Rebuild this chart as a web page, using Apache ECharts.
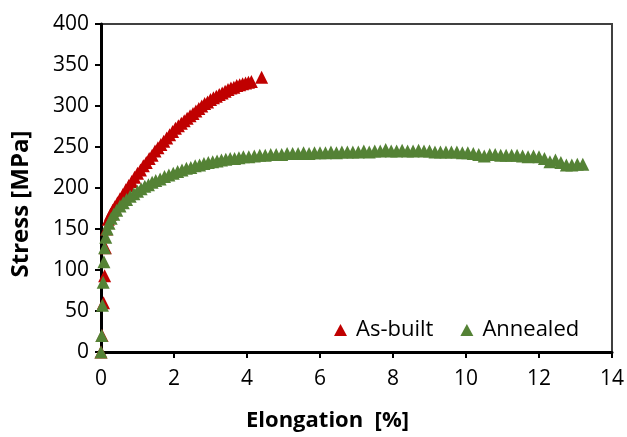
<!DOCTYPE html>
<html>
<head>
<meta charset="utf-8">
<script src="https://cdn.jsdelivr.net/npm/echarts@6/dist/echarts.min.js"></script>
<style>
html,body{margin:0;padding:0;background:#fff;}
#chart{width:627px;height:437px;}
</style>
</head>
<body>
<div id="chart"></div>
<script>
var xTicks = [0, 2, 4, 6, 8, 10, 12, 14];
var yTicks = [0, 50, 100, 150, 200, 250, 300, 350, 400];
var seriesNames = ["As-built", "Annealed"];

var asBuiltStrain = [0, 0.03, 0.07, 0.10, 0.12, 0.15, 0.20, 0.26, 0.32, 0.38, 0.45, 0.52, 0.60, 0.68, 0.76, 0.84, 0.92, 1.00, 1.08, 1.16, 1.24, 1.32, 1.40, 1.48, 1.56, 1.64, 1.72, 1.80, 1.88, 1.96, 2.04, 2.12, 2.20, 2.28, 2.36, 2.44, 2.52, 2.60, 2.68, 2.76, 2.84, 2.92, 3.00, 3.08, 3.16, 3.24, 3.32, 3.40, 3.48, 3.56, 3.64, 3.72, 3.80, 3.88, 3.96, 4.04, 4.12, 4.40];
var asBuiltStress = [0, 20, 60, 93, 127, 150, 162, 168, 173, 177, 182, 187, 192, 198, 203, 208, 213, 218, 222, 227, 231, 236, 240, 245, 249, 253, 257, 261, 265, 269, 273, 276, 279, 282, 285, 288, 291, 294, 297, 300, 303, 305, 308, 310, 312, 314, 316, 318, 320, 322, 323, 325, 326, 327, 328, 329, 330, 335];

var annealedStrain = [0, 0.02, 0.04, 0.06, 0.08, 0.10, 0.13, 0.17, 0.22, 0.28, 0.35, 0.43, 0.52, 0.61, 0.70, 0.80, 0.90, 1.00, 1.10, 1.20, 1.30, 1.40, 1.50, 1.62, 1.74, 1.86, 1.98, 2.10, 2.22, 2.34, 2.46, 2.58, 2.70, 2.82, 2.94, 3.06, 3.18, 3.30, 3.42, 3.54, 3.66, 3.78, 3.90, 4.05, 4.20, 4.35, 4.50, 4.65, 4.80, 4.95, 5.10, 5.25, 5.40, 5.55, 5.70, 5.85, 6.00, 6.15, 6.30, 6.45, 6.60, 6.75, 6.90, 7.05, 7.20, 7.35, 7.50, 7.65, 7.80, 7.95, 8.10, 8.25, 8.40, 8.55, 8.70, 8.85, 9.00, 9.15, 9.30, 9.45, 9.60, 9.75, 9.90, 10.05, 10.20, 10.35, 10.50, 10.65, 10.80, 10.95, 11.10, 11.25, 11.40, 11.55, 11.70, 11.85, 12.00, 12.15, 12.30, 12.45, 12.60, 12.75, 12.90, 13.05, 13.20];
var annealedStress = [0, 20, 57, 85, 110, 127, 140, 150, 157, 163, 168, 173, 178, 182, 186, 190, 193, 196, 199, 202, 204, 207, 209, 211, 214, 216, 218, 220, 222, 224, 225, 227, 228, 230, 231, 232, 233, 234, 235, 236, 236, 237, 238, 238, 239, 240, 240, 241, 241, 241, 242, 242, 242, 243, 242, 243, 243, 243, 244, 243, 244, 244, 244, 244, 245, 244, 245, 245, 247, 245, 245, 246, 245, 245, 246, 245, 245, 244, 244, 244, 244, 244, 243, 243, 242, 241, 239, 241, 241, 240, 240, 240, 240, 239, 238, 239, 238, 236, 232, 234, 231, 228, 228, 229, 229];

function zip(a, b) { return a.map(function (v, i) { return [v, b[i]]; }); }

var chart = echarts.init(document.getElementById('chart'), null, {renderer: 'canvas'});
var fontFam = '"Open Sans", "Liberation Sans", sans-serif';
chart.setOption({
  animation: false,
  backgroundColor: '#ffffff',
  grid: {left: 101, right: 13, top: 24, bottom: 80, show: true, borderColor: '#404040', borderWidth: 2, backgroundColor: 'transparent'},
  legend: {
    data: seriesNames.map(function (n) { return {name: n, icon: 'triangle'}; }),
    left: 329, top: 314, itemWidth: 13, itemHeight: 12, itemGap: 27,
    textStyle: {fontFamily: fontFam, fontSize: 22, color: '#000', padding: [0, 0, 0, 4]}
  },
  xAxis: {
    type: 'value', min: xTicks[0], max: xTicks[xTicks.length - 1], interval: 2,
    name: 'Elongation  [%]', nameLocation: 'middle', nameGap: 58,
    nameTextStyle: {fontFamily: fontFam, fontSize: 22, fontWeight: 'bold', color: '#000', padding: [0, 58, 0, 0]},
    axisLine: {show: true, onZero: false, lineStyle: {color: '#000', width: 3}},
    axisTick: {show: true, inside: false, length: 6, lineStyle: {color: '#000', width: 2}},
    axisLabel: {fontFamily: fontFam, fontSize: 21, color: '#000', margin: 17},
    splitLine: {show: false}
  },
  yAxis: {
    type: 'value', min: yTicks[0], max: yTicks[yTicks.length - 1], interval: 50,
    name: 'Stress [MPa]', nameLocation: 'middle', nameGap: 68,
    nameTextStyle: {fontFamily: fontFam, fontSize: 24, fontWeight: 'bold', color: '#000', padding: [0, 32, 0, 0]},
    axisLine: {show: true, onZero: false, lineStyle: {color: '#000', width: 3}},
    axisTick: {show: true, inside: false, length: 6, lineStyle: {color: '#000', width: 2}},
    axisLabel: {fontFamily: fontFam, fontSize: 21, color: '#000', margin: 12},
    splitLine: {show: false}
  },
  series: [
    {name: seriesNames[0], type: 'scatter', symbol: 'triangle', symbolSize: 13,
     itemStyle: {color: '#C00000', opacity: 1}, data: zip(asBuiltStrain, asBuiltStress)},
    {name: seriesNames[1], type: 'scatter', symbol: 'triangle', symbolSize: 13,
     itemStyle: {color: '#548235', opacity: 1}, data: zip(annealedStrain, annealedStress)}
  ]
});
</script>
</body>
</html>
